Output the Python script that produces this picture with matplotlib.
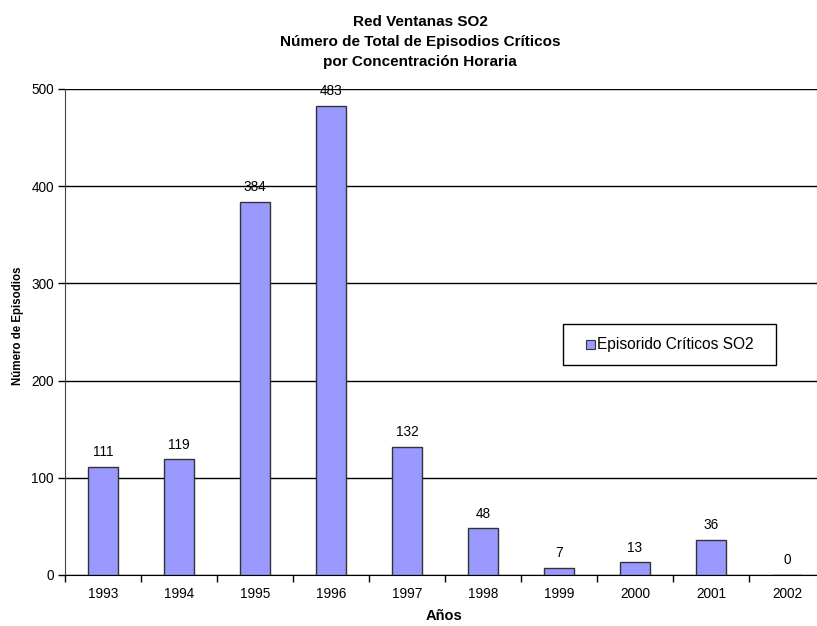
import matplotlib
matplotlib.use("Agg")
import matplotlib.pyplot as plt
from matplotlib.patches import Rectangle

plt.rcParams['font.family'] = ['Liberation Sans', 'DejaVu Sans']

years = ['1993', '1994', '1995', '1996', '1997', '1998', '1999', '2000', '2001', '2002']
episodes = [111, 119, 384, 483, 132, 48, 7, 13, 36, 0]
yticks = [0, 100, 200, 300, 400, 500]
series_name = 'Episorido Críticos SO2'
title_lines = ['Red Ventanas SO2',
               'Número de Total de Episodios Críticos',
               'por Concentración Horaria']

BAR_COLOR = '#9999FF'
EDGE_COLOR = '#333333'

W, H = 817, 626
fig = plt.figure(figsize=(W / 100, H / 100), dpi=100)


def fx(px):
    return px / W


def fy(py):
    return 1 - py / H


left, right, top, bottom = 65, 825, 89, 575
ax = fig.add_axes([fx(left), fy(bottom), (right - left) / W, (bottom - top) / H])

x = list(range(len(years)))
ax.bar(x, episodes, width=0.4, color=BAR_COLOR, edgecolor=EDGE_COLOR, linewidth=1.0, zorder=3)
for xi, v in zip(x, episodes):
    ax.text(xi, v + 8, str(v), ha='center', va='bottom', fontsize=9.8, color='black')

ax.set_xlim(-0.5, len(years) - 0.5)
ax.set_ylim(0, 500)
ax.set_yticks(yticks)
ax.set_yticklabels([str(t) for t in yticks], fontsize=9.8)
ax.yaxis.grid(True, color='black', linewidth=1.0, zorder=0)
ax.set_axisbelow(True)

ax.set_xticks(x)
ax.set_xticklabels(years, fontsize=9.8)
ax.tick_params(axis='x', length=0, pad=9)
ax.set_xticks([i + 0.5 for i in range(-1, len(years))], minor=True)
ax.tick_params(axis='x', which='minor', length=5, width=1, direction='out')
ax.tick_params(axis='y', length=5, width=1, direction='out', pad=3)

for s in ['top', 'right']:
    ax.spines[s].set_visible(False)
ax.spines['left'].set_color('#444444')
ax.spines['bottom'].set_color('black')

# axis titles
fig.text(fx(444), fy(620), 'Años', ha='center', va='baseline',
         fontsize=10.5, fontweight='bold')
fig.text(fx(18), fy(326), 'Número de Episodios', ha='center', va='center',
         rotation=90, fontsize=8.3, fontweight='bold')

# chart title
for line, base in zip(title_lines, [26, 46, 66]):
    fig.text(fx(420), fy(base), line, ha='center', va='baseline',
             fontsize=11, fontweight='bold')

# legend box
lx0, lx1, ly0, ly1 = 563, 776, 324, 365
fig.patches.append(Rectangle((fx(lx0), fy(ly1)), (lx1 - lx0) / W, (ly1 - ly0) / H,
                             transform=fig.transFigure, facecolor='white',
                             edgecolor='black', linewidth=1.0, zorder=5))
fig.patches.append(Rectangle((fx(586), fy(349)), 9 / W, 9 / H,
                             transform=fig.transFigure, facecolor=BAR_COLOR,
                             edgecolor=EDGE_COLOR, linewidth=0.8, zorder=6))
fig.text(fx(597), fy(344.5), series_name, ha='left', va='center',
         fontsize=11.2, zorder=7)

fig.savefig('out.png', dpi=100, facecolor='white')
